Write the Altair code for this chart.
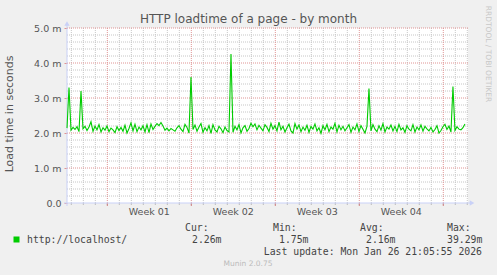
import altair as alt
import pandas as pd

# ---------------- data ----------------
# load time samples, one every 4 hours (1/6 day)
load_values = [
    2.14, 3.30, 2.08, 2.16, 2.10, 2.18, 2.04, 3.20, 2.12, 2.19,
    2.07, 2.17, 2.32, 2.05, 2.20, 2.09, 2.24, 2.03, 2.15, 2.08,
    2.20, 2.04, 2.14, 2.09, 2.01, 2.18, 2.07, 2.16, 2.05, 2.22,
    2.00, 2.13, 2.29, 2.06, 2.25, 2.04, 2.17, 2.09, 2.21, 2.03,
    2.24, 2.01, 2.26, 2.10, 2.19, 2.27, 2.21, 2.30, 2.20, 2.08,
    2.14, 2.06, 2.13, 2.09, 2.05, 2.15, 2.21, 2.11, 2.04, 2.25,
    2.16, 2.00, 3.60, 2.10, 2.23, 2.05, 2.17, 2.27, 2.02, 2.15,
    2.06, 2.21, 1.99, 2.24, 2.09, 2.03, 2.19, 2.12, 2.01, 2.17,
    2.07, 2.03, 4.26, 2.02, 2.19, 2.09, 2.24, 2.00, 2.15, 2.21,
    2.05, 2.13, 2.28, 2.18, 2.26, 2.09, 2.22, 2.14, 2.06, 2.24,
    2.16, 2.04, 2.28, 2.11, 2.21, 2.06, 2.31, 2.09, 2.19, 2.03,
    2.15, 2.25, 2.06, 2.00, 2.27, 2.11, 2.23, 2.04, 2.17, 2.08,
    2.22, 2.02, 2.19, 2.11, 2.26, 2.06, 2.15, 1.99, 2.21, 2.09,
    2.25, 2.04, 2.17, 2.11, 2.28, 2.03, 2.22, 2.09, 2.19, 2.06,
    2.15, 2.24, 2.02, 2.17, 2.09, 2.26, 2.04, 2.21, 2.11, 2.00,
    2.19, 3.27, 2.06, 2.24, 2.11, 2.04, 2.21, 2.08, 2.27, 2.03,
    2.17, 2.11, 2.23, 2.06, 2.19, 2.04, 2.25, 2.09, 2.15, 2.02,
    2.21, 2.11, 2.06, 2.24, 2.03, 2.17, 2.09, 2.23, 2.05, 2.19,
    2.12, 2.06, 2.16, 2.03, 2.10, 2.21, 2.00, 2.07, 2.18, 2.25,
    2.10, 2.20, 2.03, 3.33, 2.07, 2.18, 2.11, 2.09, 2.15, 2.26,
]
sample_step_days = 1 / 6

week_labels = ["Week 01", "Week 02", "Week 03", "Week 04"]
week_starts = [3.36, 10.36, 17.36, 24.36, 31.36]          # days from left edge
day_lines = [0.36 + d for d in range(34) if (0.36 + d) < 33.42]
y_major = [0, 1, 2, 3, 4, 5]
y_minor = [round(v * 0.2, 1) for v in range(1, 25) if v % 5 != 0]

legend_headers = ["Cur:", "Min:", "Avg:", "Max:"]
legend_values = ["2.26m", "1.75m", "2.16m", "39.29m"]
series_name = "http://localhost/"
last_update = "Last update: Mon Jan 26 21:05:55 2026"
title_text = "HTTP loadtime of a page - by month"
y_title = "Load time in seconds"

# ---------------- layout ----------------
OX, OY = 67, 28          # plot origin in page pixels
W, H = 401, 175
X_DOMAIN = [0, 33.42]

GREEN = "#00CC00"
AXIS_BLUE = "#C9D1F7"
MINOR = "#C6C6C6"
MAJOR = "#E09494"
TEXT = "#555555"

xs = alt.Scale(domain=X_DOMAIN, nice=False, zero=False)
ys = alt.Scale(domain=[0, 5], nice=False)

line_df = pd.DataFrame({
    "day": [i * sample_step_days for i in range(len(load_values))],
    "v": load_values,
})
week_mid = [(week_starts[i] + week_starts[i + 1]) / 2 for i in range(len(week_labels))]
weeks_df = pd.DataFrame({"day": week_mid, "label": week_labels})
minor_x_df = pd.DataFrame({"day": [d for d in day_lines if all(abs(d - w) > 0.01 for w in week_starts)]})
major_x_df = pd.DataFrame({"day": week_starts})
all_days_df = pd.DataFrame({"day": day_lines})
minor_y_df = pd.DataFrame({"v": y_minor})
major_y_df = pd.DataFrame({"v": y_major[1:]})

yaxis = alt.Axis(
    values=y_major,
    labelExpr="datum.value == 0 ? '0.0' : format(datum.value, '.1f') + ' m'",
    labelFont="DejaVu Sans", labelFontSize=9.5, labelColor=TEXT,
    domain=False, ticks=True, tickSize=3, tickColor=MAJOR,
    grid=False, title=None, labelPadding=3,
)


def yenc(field):
    return alt.Y(field, type="quantitative", scale=ys, axis=yaxis)


def xenc(field):
    return alt.X(field, type="quantitative", scale=xs, axis=None)


minor_x = alt.Chart(minor_x_df).mark_rule(color=MINOR, strokeDash=[1, 1], strokeWidth=1).encode(x=xenc("day"))
major_x = alt.Chart(major_x_df).mark_rule(color=MAJOR, strokeDash=[1, 1], strokeWidth=1).encode(x=xenc("day"))
minor_y = alt.Chart(minor_y_df).mark_rule(color=MINOR, strokeDash=[1, 1], strokeWidth=1).encode(y=yenc("v"))
major_y = alt.Chart(major_y_df).mark_rule(color=MAJOR, strokeDash=[1, 1], strokeWidth=1).encode(y=yenc("v"))

day_ticks = alt.Chart(all_days_df).mark_rule(color="#BBBBBB").encode(
    x=xenc("day"), y=alt.value(H), y2=alt.value(H + 2))
week_ticks = alt.Chart(major_x_df).mark_rule(color="#D08080").encode(
    x=xenc("day"), y=alt.value(H), y2=alt.value(H + 3))

axis_df = pd.DataFrame({"k": [0]})
x_axis_line = alt.Chart(axis_df).mark_rule(color=AXIS_BLUE, strokeWidth=1).encode(
    x=alt.value(-3), x2=alt.value(W + 3), y=alt.value(H))
y_axis_line = alt.Chart(axis_df).mark_rule(color=AXIS_BLUE, strokeWidth=1).encode(
    x=alt.value(0), y=alt.value(-4), y2=alt.value(H + 3))
arrow_up = alt.Chart(axis_df).mark_point(shape="triangle-up", filled=True, size=28,
                                         color=AXIS_BLUE, opacity=1).encode(
    x=alt.value(0), y=alt.value(-4.5))
arrow_right = alt.Chart(axis_df).mark_point(shape="triangle-right", filled=True, size=28,
                                            color=AXIS_BLUE, opacity=1).encode(
    x=alt.value(W + 4), y=alt.value(H))

line = alt.Chart(line_df).mark_line(color=GREEN, strokeWidth=1.1, interpolate="linear").encode(
    x=xenc("day"), y=yenc("v"))

week_text = alt.Chart(weeks_df).mark_text(font="DejaVu Sans", fontSize=9.5, color=TEXT,
                                          baseline="middle", align="center").encode(
    x=xenc("day"), y=alt.value(212 - OY), text="label:N")


def label(text, px, py, size, color=TEXT, font="DejaVu Sans", align="left", angle=0):
    return alt.Chart(pd.DataFrame({"t": [text]})).mark_text(
        font=font, fontSize=size, color=color, align=align, baseline="middle", angle=angle
    ).encode(x=alt.value(px - OX), y=alt.value(py - OY), text="t:N")


MONO = "DejaVu Sans Mono"
texts = [
    label(title_text, 248.5, 19, 12, color=TEXT, align="center"),
    label(y_title, 10, 114, 11, color=TEXT, align="center", angle=270),
    label("RRDTOOL / TOBI OETIKER", 488, 54, 7.5, color="#C8C8C8", align="center", angle=90),
]
header_x = [185, 273, 360, 447]
value_x = [192, 279, 366, 447]
for h, hx in zip(legend_headers, header_x):
    texts.append(label(h, hx, 228, 9.8, color="#444444", font=MONO))
for v, vx in zip(legend_values, value_x):
    texts.append(label(v, vx, 240, 9.8, color="#444444", font=MONO))
texts.append(label(series_name, 27, 240, 9.8, color="#444444", font=MONO))
texts.append(label(last_update, 482, 252, 9.8, color="#444444", font=MONO, align="right"))
texts.append(label("Munin 2.0.75", 248, 264, 7.5, color="#BBBBBB", align="center"))

legend_square = alt.Chart(axis_df).mark_square(color=GREEN, size=36, opacity=1).encode(
    x=alt.value(16.5 - OX), y=alt.value(239.5 - OY))

chart = alt.layer(
    minor_x, minor_y, major_x, major_y,
    day_ticks, week_ticks,
    x_axis_line, y_axis_line, arrow_up, arrow_right,
    line, week_text, legend_square, *texts,
).resolve_scale(x="shared", y="shared").properties(
    width=W, height=H,
    autosize="none",
    padding={"left": OX, "top": OY, "right": 497 - OX - W, "bottom": 275 - OY - H},
    background="#F0F0F0",
).configure_view(fill="white", stroke=None)

chart.save("out.html", embed_options={"renderer": "svg", "actions": False})
